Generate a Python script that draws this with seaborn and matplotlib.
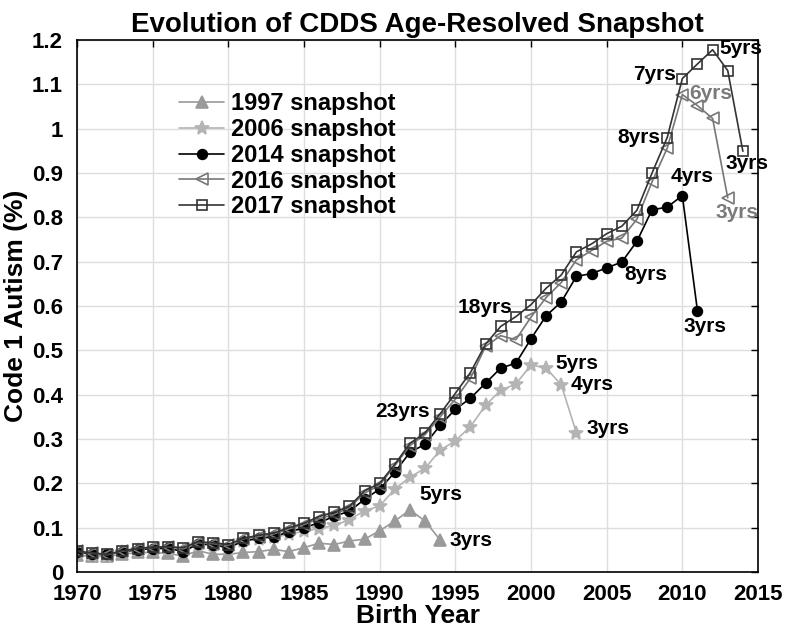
import numpy as np
import pandas as pd
import matplotlib
matplotlib.use("Agg")
import matplotlib.pyplot as plt
import seaborn as sns

# values (Code 1 autism %, by birth year)
years_1997 = list(range(1970, 1995))
vals_1997 = [0.038, 0.035, 0.035, 0.040, 0.044, 0.044, 0.042, 0.036, 0.048, 0.040,
             0.040, 0.044, 0.046, 0.051, 0.046, 0.055, 0.065, 0.062, 0.070, 0.074,
             0.093, 0.115, 0.140, 0.115, 0.072]

years_2006 = list(range(1970, 2004))
vals_2006 = [0.045, 0.038, 0.036, 0.045, 0.050, 0.052, 0.052, 0.048, 0.062, 0.060,
             0.055, 0.070, 0.075, 0.078, 0.085, 0.092, 0.098, 0.105, 0.118, 0.138,
             0.149, 0.187, 0.214, 0.234, 0.275, 0.296, 0.328, 0.376, 0.410, 0.424,
             0.467, 0.460, 0.422, 0.314]

years_2014 = list(range(1970, 2012))
vals_2014 = [0.046, 0.040, 0.040, 0.046, 0.050, 0.053, 0.054, 0.046, 0.063, 0.062,
             0.055, 0.070, 0.076, 0.080, 0.090, 0.100, 0.111, 0.126, 0.137, 0.164,
             0.187, 0.225, 0.270, 0.288, 0.331, 0.367, 0.392, 0.426, 0.460, 0.471,
             0.526, 0.578, 0.609, 0.667, 0.673, 0.686, 0.699, 0.746, 0.817, 0.823,
             0.849, 0.589]

years_2016 = list(range(1970, 2014))
vals_2016 = [0.047, 0.042, 0.039, 0.047, 0.053, 0.055, 0.057, 0.052, 0.066, 0.064,
             0.060, 0.075, 0.080, 0.086, 0.097, 0.107, 0.120, 0.130, 0.145, 0.178,
             0.196, 0.240, 0.285, 0.310, 0.350, 0.390, 0.437, 0.509, 0.533, 0.524,
             0.575, 0.619, 0.653, 0.704, 0.725, 0.746, 0.753, 0.796, 0.880, 0.956,
             1.077, 1.052, 1.023, 0.844]

years_2017 = list(range(1970, 2015))
vals_2017 = [0.047, 0.043, 0.040, 0.048, 0.053, 0.056, 0.057, 0.055, 0.068, 0.066,
             0.062, 0.076, 0.083, 0.088, 0.100, 0.110, 0.125, 0.135, 0.148, 0.183,
             0.200, 0.243, 0.290, 0.314, 0.357, 0.403, 0.450, 0.514, 0.554, 0.576,
             0.603, 0.640, 0.670, 0.722, 0.740, 0.763, 0.780, 0.816, 0.900, 0.980,
             1.113, 1.146, 1.178, 1.131, 0.949]

# age labels: text, x, y, alignment, colour
age_labels = [
    ("5yrs", 1992.6, 0.174, "left", "black"),
    ("3yrs", 1994.6, 0.070, "left", "black"),
    ("23yrs", 1993.3, 0.362, "right", "black"),
    ("18yrs", 1998.8, 0.597, "right", "black"),
    ("5yrs", 2001.6, 0.471, "left", "black"),
    ("4yrs", 2002.6, 0.422, "left", "black"),
    ("3yrs", 2003.65, 0.323, "left", "black"),
    ("8yrs", 2006.2, 0.670, "left", "black"),
    ("4yrs", 2009.2, 0.892, "left", "black"),
    ("3yrs", 2010.1, 0.554, "left", "black"),
    ("7yrs", 2009.57, 1.122, "right", "black"),
    ("5yrs", 2012.45, 1.180, "left", "black"),
    ("3yrs", 2012.86, 0.922, "left", "black"),
    ("6yrs", 2010.45, 1.080, "left", "#7a7a7a"),
    ("3yrs", 2012.2, 0.811, "left", "#7a7a7a"),
    ("8yrs", 2008.57, 0.981, "right", "black"),
]

series = [
    ("1997 snapshot", years_1997, vals_1997, "^", "#9a9a9a", "#9a9a9a", 8),
    ("2006 snapshot", years_2006, vals_2006, "*", "#b4b4b4", "#b4b4b4", 10),
    ("2014 snapshot", years_2014, vals_2014, "o", "black", "black", 7),
    ("2016 snapshot", years_2016, vals_2016, "<", "#777777", "none", 8),
    ("2017 snapshot", years_2017, vals_2017, "s", "#333333", "none", 6.5),
]

sns.set_style("white")
plt.rcParams["font.family"] = ["Liberation Sans", "DejaVu Sans"]
plt.rcParams["font.weight"] = "bold"
plt.rcParams["text.color"] = "black"
plt.rcParams["axes.labelcolor"] = "black"
plt.rcParams["xtick.color"] = "black"
plt.rcParams["ytick.color"] = "black"

fig = plt.figure(figsize=(7.86, 6.34), dpi=100)
ax = fig.add_axes([77 / 786, 1 - 572 / 634, 681 / 786, 532 / 634])

for label, xs, ys, mk, col, face, ms in series:
    df = pd.DataFrame({"year": xs, "value": ys})
    sns.lineplot(data=df, x="year", y="value", ax=ax, label=label,
                 color=col, marker=mk, markersize=ms, markerfacecolor=face,
                 markeredgecolor=col, markeredgewidth=1.2, linewidth=1.2)

for txt, x, y, ha, col in age_labels:
    ax.text(x, y, txt, ha=ha, va="center", fontsize=15, fontweight="bold", color=col)

ax.set_xlim(1970, 2015)
ax.set_ylim(0, 1.2)
ax.set_xticks(np.arange(1970, 2016, 5))
ax.set_yticks(np.round(np.arange(0, 1.21, 0.1), 1))
ax.set_yticklabels(["%g" % v for v in np.round(np.arange(0, 1.21, 0.1), 1)])
ax.grid(True, color="#dedede", linewidth=1)
ax.set_axisbelow(True)
ax.tick_params(direction="in", length=5, width=1, top=True, right=True,
               labelsize=16, colors="black")
ax.tick_params(axis="x", pad=9)
ax.tick_params(axis="y", pad=10)
for lab in ax.get_xticklabels() + ax.get_yticklabels():
    lab.set_fontweight("bold")
for sp in ax.spines.values():
    sp.set_visible(True)
    sp.set_color("black")
    sp.set_linewidth(1.2)

ax.set_title("Evolution of CDDS Age-Resolved Snapshot", fontsize=20,
             fontweight="bold", pad=6, color="black")
ax.set_xlabel("Birth Year", fontsize=19, fontweight="bold", labelpad=-1)
ax.set_ylabel("Code 1 Autism (%)", fontsize=19, fontweight="bold", labelpad=3)

ax.legend(loc="upper left", bbox_to_anchor=(0.15, 0.902), frameon=False,
          fontsize=17, handlelength=1.9, handletextpad=0.3, labelspacing=0.12,
          borderpad=0, borderaxespad=0)

fig.savefig("out.png", dpi=100)
